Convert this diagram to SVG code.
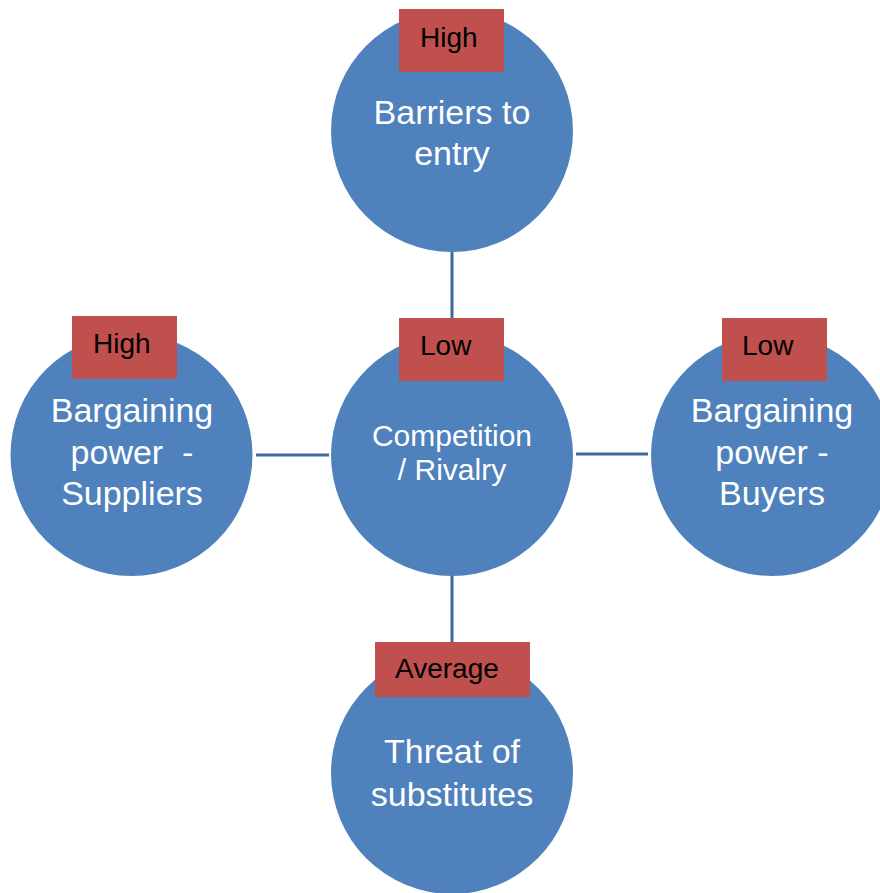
<svg xmlns="http://www.w3.org/2000/svg" width="880" height="893" viewBox="0 0 880 893">
<style>
.c{fill:#4f81bd}
.b{fill:#c0504d}
.t{font-family:"Liberation Sans",Arial,sans-serif;fill:#fff;text-anchor:middle}
.l{font-family:"Liberation Sans",Arial,sans-serif;fill:#000;font-size:28px}
.k{stroke:#41689a;stroke-width:3;fill:none}
</style>
<rect width="880" height="893" fill="#fff"/>
<g id="connectors">
<line class="k" x1="452" y1="252" x2="452" y2="334"/>
<line class="k" x1="452" y1="576" x2="452" y2="642"/>
<line class="k" x1="256" y1="455" x2="329" y2="455"/>
<line class="k" x1="576" y1="454" x2="648" y2="454"/>
</g>
<g id="barriers">
<circle class="c" cx="452" cy="131" r="121"/>
<rect class="b" x="399" y="9" width="105" height="63"/>
<text class="l" x="420" y="47">High</text>
<text class="t" font-size="34" x="452" y="124">Barriers to</text>
<text class="t" font-size="34" x="452" y="165">entry</text>
</g>
<g id="competition">
<circle class="c" cx="452" cy="455" r="121"/>
<rect class="b" x="399" y="318" width="105" height="63"/>
<text class="l" x="420" y="355">Low</text>
<text class="t" font-size="30" x="452" y="446">Competition</text>
<text class="t" font-size="30" x="452" y="480">/ Rivalry</text>
</g>
<g id="suppliers">
<circle class="c" cx="131.5" cy="455" r="121"/>
<rect class="b" x="72" y="316" width="105" height="63"/>
<text class="l" x="93" y="353">High</text>
<text class="t" font-size="34" x="132" y="422">Bargaining</text>
<text class="t" font-size="34" x="132" y="464" xml:space="preserve">power  -</text>
<text class="t" font-size="34" x="132" y="505">Suppliers</text>
</g>
<g id="buyers">
<circle class="c" cx="772" cy="455" r="121"/>
<rect class="b" x="722" y="318" width="105" height="63"/>
<text class="l" x="742" y="355">Low</text>
<text class="t" font-size="34" x="772" y="422">Bargaining</text>
<text class="t" font-size="34" x="772" y="464">power -</text>
<text class="t" font-size="34" x="772" y="505">Buyers</text>
</g>
<g id="substitutes">
<circle class="c" cx="452" cy="773" r="121"/>
<rect class="b" x="375" y="642" width="155" height="55"/>
<text class="l" x="395" y="678">Average</text>
<text class="t" font-size="34" x="452" y="763">Threat of</text>
<text class="t" font-size="34" x="452" y="806">substitutes</text>
</g>
</svg>
